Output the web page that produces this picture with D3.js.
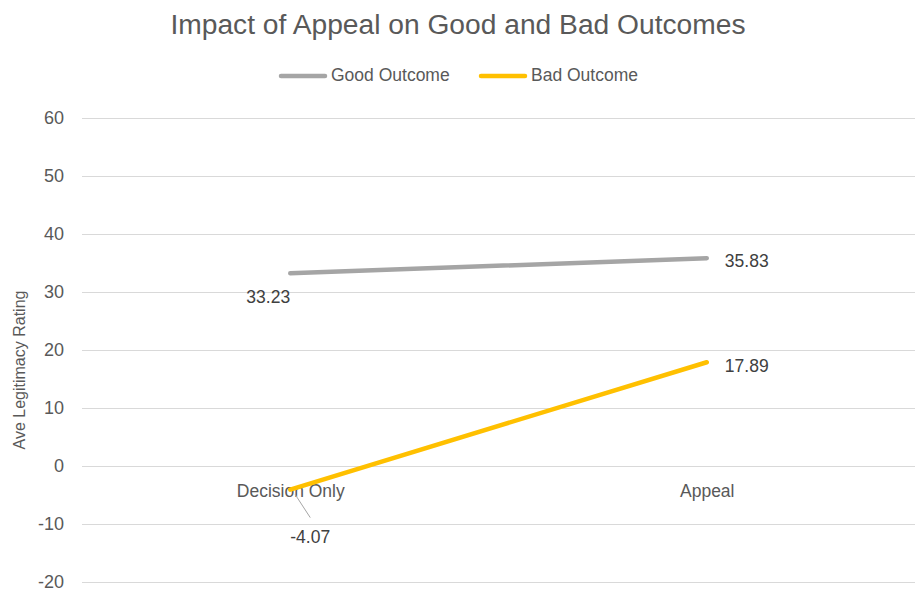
<!DOCTYPE html>
<html>
<head>
<meta charset="utf-8">
<script src="https://cdn.jsdelivr.net/npm/d3@7"></script>
<style>
  body { margin: 0; background: #fff; }
  text { font-family: "Liberation Sans", Arial, sans-serif; fill: #595959; }
</style>
</head>
<body>
<div id="chart"></div>
<script>
const categories = ["Decision Only", "Appeal"];
const goodOutcome = [33.23, 35.83];
const badOutcome = [-4.07, 17.89];
const yTicks = [-20, -10, 0, 10, 20, 30, 40, 50, 60];

var width = 917;
var height = 594;
var margin = {top: 118, right: 2, bottom: 12, left: 82};
var fontFamily = "Liberation Sans, Arial, sans-serif";

var svg = d3.select("#chart").append("svg")
    .attr("width", width)
    .attr("height", height);

/* Scales */
var xScale = d3.scalePoint()
    .domain(categories)
    .range([margin.left, width - margin.right])
    .padding(0.5);

var yScale = d3.scaleLinear()
    .domain([-20, 60])
    .range([height - margin.bottom, margin.top]);

/* Title */
svg.append("text")
    .attr("x", 458)
    .attr("y", 34)
    .attr("text-anchor", "middle")
    .style("font-size", "28.2px")
    .text("Impact of Appeal on Good and Bad Outcomes");

/* Gridlines + y axis */
var yAxis = d3.axisLeft(yScale)
    .tickValues(yTicks)
    .tickFormat(d => String(d))
    .tickSize(-(width - margin.right - margin.left))
    .tickPadding(18);

var gy = svg.append("g")
    .attr("transform", `translate(${margin.left},0)`)
    .call(yAxis);
gy.select(".domain").remove();
gy.selectAll("line").attr("stroke", "#D9D9D9").attr("stroke-width", 1);
gy.selectAll("text")
    .style("font-size", "18px")
    .attr("fill", "#595959")
    .style("font-family", fontFamily);

/* Category axis at zero */
var xAxis = d3.axisBottom(xScale).tickSize(0).tickPadding(19);
var gx = svg.append("g")
    .attr("transform", `translate(0,${yScale(0)})`)
    .call(xAxis);
gx.select(".domain").remove();
gx.selectAll("text")
    .style("font-size", "17.5px")
    .attr("fill", "#595959")
    .style("font-family", fontFamily);

/* Y axis title */
svg.append("text")
    .attr("transform", `translate(25,${370}) rotate(-90)`)
    .attr("text-anchor", "middle")
    .style("font-size", "16px")
    .text("Ave Legitimacy Rating");

/* Lines */
var series = [
    {name: "Good Outcome", values: goodOutcome, color: "#A5A5A5"},
    {name: "Bad Outcome", values: badOutcome, color: "#FFC000"}
];

var line = d3.line()
    .x((d, i) => xScale(categories[i]))
    .y(d => yScale(d));

svg.append("g").selectAll("path")
    .data(series).enter()
    .append("path")
    .attr("d", d => line(d.values))
    .attr("fill", "none")
    .attr("stroke", d => d.color)
    .attr("stroke-width", 4.5)
    .attr("stroke-linecap", "round");

/* Data labels */
function label(x, y, txt) {
    svg.append("text")
        .attr("x", x)
        .attr("y", y)
        .attr("text-anchor", "middle")
        .style("font-size", "17.5px")
        .style("fill", "#404040")
        .text(txt);
}
var x0 = xScale(categories[0]), x1 = xScale(categories[1]);
label(x0 - 22, yScale(goodOutcome[0]) + 30, goodOutcome[0].toFixed(2));
label(x1 + 40, yScale(goodOutcome[1]) + 9, goodOutcome[1].toFixed(2));
label(x1 + 40, yScale(badOutcome[1]) + 10, badOutcome[1].toFixed(2));
label(x0 + 20, yScale(badOutcome[0]) + 53, badOutcome[0].toFixed(2));

/* Leader line for -4.07 */
svg.append("line")
    .attr("x1", x0 + 5)
    .attr("y1", yScale(badOutcome[0]) + 5)
    .attr("x2", x0 + 20)
    .attr("y2", yScale(badOutcome[0]) + 28)
    .attr("stroke", "#A5A5A5")
    .attr("stroke-width", 1);

/* Legend */
var legendPos = [281, 481];
var legend = svg.append("g").selectAll("g")
    .data(series).enter()
    .append("g")
    .attr("transform", (d, i) => `translate(${legendPos[i]},76)`);
legend.append("line")
    .attr("x1", 0).attr("x2", 44)
    .attr("stroke", d => d.color)
    .attr("stroke-width", 4.5)
    .attr("stroke-linecap", "round");
legend.append("text")
    .attr("x", 50)
    .attr("y", 5)
    .style("font-size", "17.5px")
    .text(d => d.name);
</script>
</body>
</html>
